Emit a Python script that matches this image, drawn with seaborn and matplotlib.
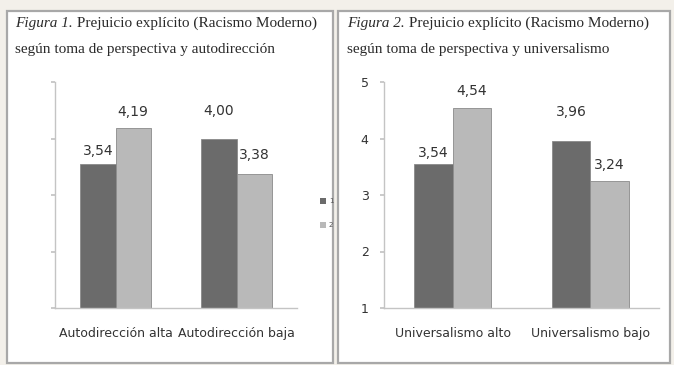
import matplotlib
matplotlib.use("Agg")
import matplotlib.pyplot as plt
import seaborn as sns
import pandas as pd
from matplotlib.patches import Rectangle

sns.set_theme(style="white")
plt.rcParams['font.family'] = ['DejaVu Sans']

# ---- data ----
groups = ["1", "2"]
cats1 = ["Autodirección alta", "Autodirección baja"]
vals1_g1 = [3.54, 4.00]
vals1_g2 = [4.19, 3.38]
labels1_g1 = ["3,54", "4,00"]
labels1_g2 = ["4,19", "3,38"]

cats2 = ["Universalismo alto", "Universalismo bajo"]
vals2_g1 = [3.54, 3.96]
vals2_g2 = [4.54, 3.24]
labels2_g1 = ["3,54", "3,96"]
labels2_g2 = ["4,54", "3,24"]

yticks = [1, 2, 3, 4, 5]

title1_it = "Figura 1."
title1_rest = " Prejuicio explícito (Racismo Moderno)"
title1_l2 = "según toma de perspectiva y autodirección"
title2_it = "Figura 2."
title2_rest = " Prejuicio explícito (Racismo Moderno)"
title2_l2 = "según toma de perspectiva y universalismo"

# ---- styles ----
colors = ["#6b6b6b", "#b9b9b9"]
label_offsets1 = [[9.5, 19.5], [11, 13]]   # points above bar, [group][cat]
label_offsets2 = [[8, 21], [12, 11.5]]

W, H = 674, 365
fig = plt.figure(figsize=(W / 100, H / 100), dpi=100)
fig.patch.set_facecolor("#f3f0ea")

bg = fig.add_axes([0, 0, 1, 1], zorder=0)
bg.set_xlim(0, W)
bg.set_ylim(H, 0)
bg.axis("off")
for x0, x1 in [(7, 333), (338, 670)]:
    bg.add_patch(Rectangle((x0, 11), x1 - x0, 352, facecolor="white",
                           edgecolor="#a8a8a8", lw=1.6))

def title(x, it, rest, l2):
    t = bg.text(x, 23, it, family="Liberation Serif", style="italic",
                fontsize=11, color="#2a2a2a", va="center", ha="left")
    bg.annotate(rest, xy=(1, 0.5), xycoords=t, va="center", ha="left",
                family="Liberation Serif", fontsize=11, color="#2a2a2a")
    bg.text(x, 50, l2, family="Liberation Serif", fontsize=11,
            color="#2a2a2a", va="center", ha="left")

title(15, title1_it, title1_rest, title1_l2)
title(347, title2_it, title2_rest, title2_l2)


def panel(rect, cats, v1, v2, lab1, lab2, offs, show_ylabels, width):
    ax = fig.add_axes(rect, zorder=2)
    ax.set_facecolor("none")
    df = pd.DataFrame({
        "cat": cats * 2,
        "val": list(v1) + list(v2),
        "grp": [groups[0]] * len(cats) + [groups[1]] * len(cats),
    })
    sns.barplot(data=df, x="cat", y="val", hue="grp", palette=colors,
                ax=ax, width=width, saturation=1, legend=False,
                edgecolor="#8a8a8a", linewidth=0.6)
    ax.set_ylim(1, 5)
    ax.set_xlim(-0.5, len(cats) - 0.5)
    ax.set_xlabel("")
    ax.set_ylabel("")
    for s in ["top", "right"]:
        ax.spines[s].set_visible(False)
    for s in ["left", "bottom"]:
        ax.spines[s].set_color("#c4c4c4")
        ax.spines[s].set_linewidth(1.0)
    ax.set_yticks(yticks)
    ax.tick_params(axis="y", length=3, color="#c4c4c4", direction="out",
                   labelsize=9, labelcolor="#333333", pad=8,
                   labelleft=show_ylabels, left=True)
    ax.set_xticks(range(len(cats)))
    ax.set_xticklabels(cats, fontsize=9, color="#333333")
    ax.tick_params(axis="x", length=0, pad=14)
    ax.set_xticks([-0.5, 0.5, 1.5], minor=True)
    ax.tick_params(axis="x", which="minor", length=3, color="#c4c4c4")
    for gi, (cont, labs) in enumerate(zip(ax.containers, [lab1, lab2])):
        for ci, (bar, lab) in enumerate(zip(cont, labs)):
            ax.annotate(lab, xy=(bar.get_x() + bar.get_width() / 2,
                                 bar.get_height()),
                        xytext=(0, offs[gi][ci]), textcoords="offset points",
                        ha="center", va="center", fontsize=10,
                        color="#333333")
    return ax

ax1 = panel([55 / W, 1 - 308 / H, 242 / W, 226 / H], cats1, vals1_g1,
            vals1_g2, labels1_g1, labels1_g2, label_offsets1, False, 0.58)
ax2 = panel([384 / W, 1 - 308 / H, 275 / W, 226 / H], cats2, vals2_g1,
            vals2_g2, labels2_g1, labels2_g2, label_offsets2, True, 0.56)

# tiny legend (clipped at panel border in the reference)
for i, (c, g) in enumerate(zip(colors, groups)):
    y = 201 + i * 24
    bg.add_patch(Rectangle((320, y - 3), 6, 6, facecolor=c,
                           edgecolor="none", zorder=3))
    bg.text(329, y, g, fontsize=5, color="#555555", va="center", zorder=3)

fig.savefig("out.png", dpi=100, facecolor=fig.get_facecolor())
